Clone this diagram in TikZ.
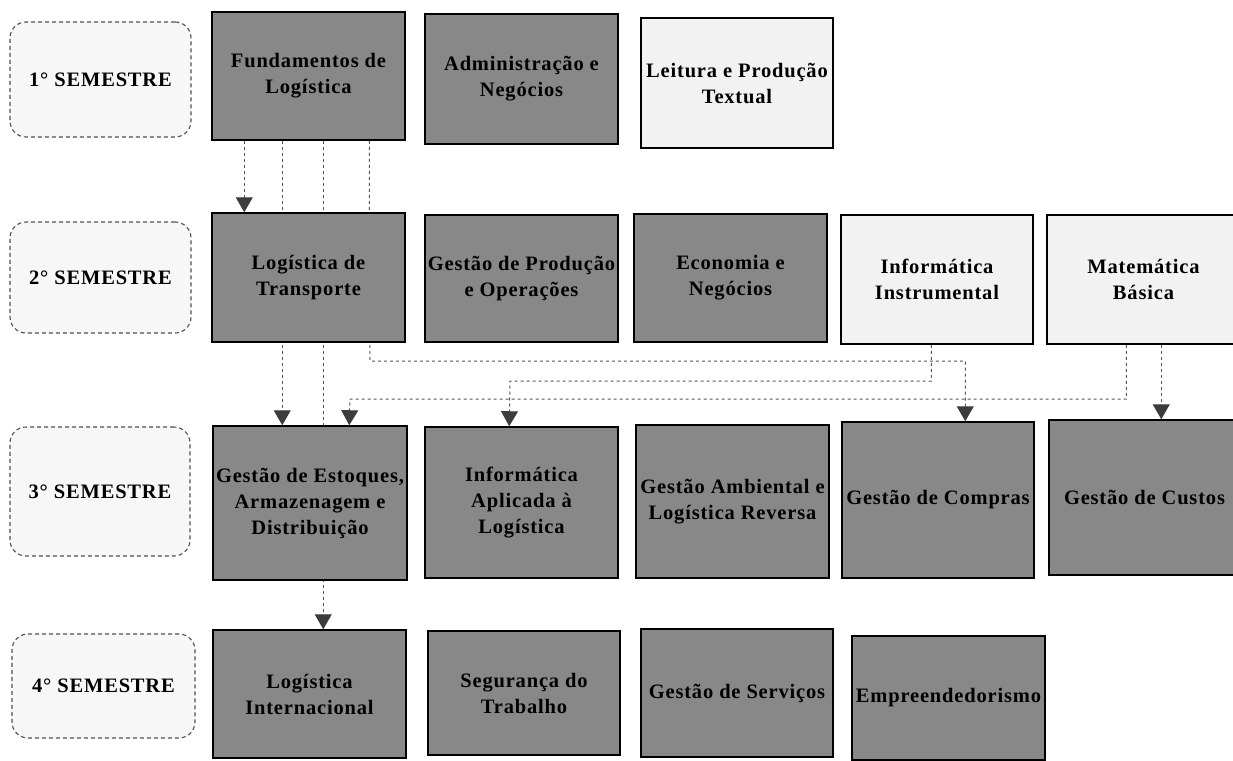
\documentclass[tikz,border=0pt]{standalone}
\usepackage{fontspec}
\setmainfont{Liberation Serif}
\newfontfamily\boxfont{Liberation Serif}[LetterSpace=4]
\usetikzlibrary{arrows.meta,backgrounds}
\definecolor{boxgray}{RGB}{136,136,136}
\definecolor{lightfill}{RGB}{242,242,242}
\definecolor{semfill}{RGB}{247,247,247}
\definecolor{conncol}{RGB}{85,85,85}
\definecolor{semline}{RGB}{80,80,80}
\definecolor{tipcol}{RGB}{60,60,60}
\tikzset{
  basebox/.style={draw=black, line width=1.5pt, inner sep=2pt, align=center,
    font=\boxfont\bfseries\fontsize{20.5}{26}\selectfont, text=black},
  darkbox/.style={basebox, fill=boxgray},
  whitebox/.style={basebox, fill=lightfill},
  sembox/.style={draw=semline, dashed, dash pattern=on 4pt off 3pt, line width=1.1pt,
    rounded corners=16pt, fill=semfill, align=center,
    font=\boxfont\bfseries\fontsize{20.5}{24}\selectfont},
  conn/.style={draw=conncol, line width=1pt, dash pattern=on 3pt off 3pt},
  arr/.style={-{Triangle[width=17pt,length=15pt,color=tipcol]}}
}
\newcommand\zzbox[7]{%
  \node[#2, minimum width={#5-#3}, minimum height={#6-#4}] (#1) at ({(#3+#5)/2},{(#4+#6)/2}) {#7};}
\begin{document}
\begin{tikzpicture}[x=1pt,y=-1pt]
\useasboundingbox (0,0) rectangle (1233,760);
\clip (0,0) rectangle (1233,760);
% semesters
\zzbox{s1}{sembox}{10}{22}{191}{137}{1° SEMESTRE}
\zzbox{s2}{sembox}{10}{222}{191}{333}{2° SEMESTRE}
\zzbox{s3}{sembox}{10}{427}{190}{556}{3° SEMESTRE}
\zzbox{s4}{sembox}{12}{634}{195}{738}{4° SEMESTRE}
% row 1
\zzbox{fund}{darkbox}{212}{12}{405}{140}{Fundamentos de\\Logística}
\zzbox{adm}{darkbox}{425}{14}{618}{144}{Administração e\\Negócios}
\zzbox{leit}{whitebox}{641}{18}{833}{148}{Leitura e Produção\\Textual}
% row 2
\zzbox{transp}{darkbox}{212}{213}{405}{342}{Logística de\\Transporte}
\zzbox{prod}{darkbox}{425}{215}{618}{342}{Gestão de Produção\\e Operações}
\zzbox{econ}{darkbox}{634}{214}{827}{342}{Economia e\\Negócios}
\zzbox{infi}{whitebox}{841}{215}{1033}{344}{Informática\\Instrumental}
\zzbox{mat}{whitebox}{1047}{215}{1240}{344}{Matemática\\Básica}
% row 3
\zzbox{est}{darkbox}{213}{426}{407}{580}{Gestão de Estoques,\\Armazenagem e\\Distribuição}
\zzbox{infa}{darkbox}{425}{427}{618}{578}{Informática\\Aplicada à\\Logística}
\zzbox{amb}{darkbox}{636}{425}{829}{578}{Gestão Ambiental e\\Logística Reversa}
\zzbox{comp}{darkbox}{842}{422}{1034}{578}{Gestão de Compras}
\zzbox{cust}{darkbox}{1049}{420}{1240}{575}{Gestão de Custos}
% row 4
\zzbox{logi}{darkbox}{213}{630}{406}{758}{Logística\\Internacional}
\zzbox{seg}{darkbox}{428}{631}{620}{755}{Segurança do\\Trabalho}
\zzbox{serv}{darkbox}{641}{629}{833}{757}{Gestão de Serviços}
\zzbox{emp}{darkbox}{852}{636}{1045}{760}{Empreendedorismo}
% bend points
\coordinate (b1) at (370,361);
\coordinate (b2) at (510,381);
\coordinate (b3) at (350,399);
\begin{scope}[on background layer]
\draw[conn,arr] ([xshift=33]fund.south west) -- ([xshift=33]transp.north west);
\draw[conn,arr] ([xshift=71]fund.south west) -- ([xshift=70]est.north west);
\draw[conn,arr] ([xshift=112]fund.south west) -- ([xshift=111]logi.north west);
\draw[conn,arr] ([xshift=158]fund.south west) -- (b1) -| ([xshift=124]comp.north west);
\draw[conn,arr] ([xshift=91]infi.south west) |- (b2) -- ([xshift=85]infa.north west);
\draw[conn,arr] ([xshift=80]mat.south west) |- (b3) -- ([xshift=137]est.north west);
\draw[conn,arr] ([xshift=115]mat.south west) -- ([xshift=113]cust.north west);
\end{scope}
\end{tikzpicture}
\end{document}
